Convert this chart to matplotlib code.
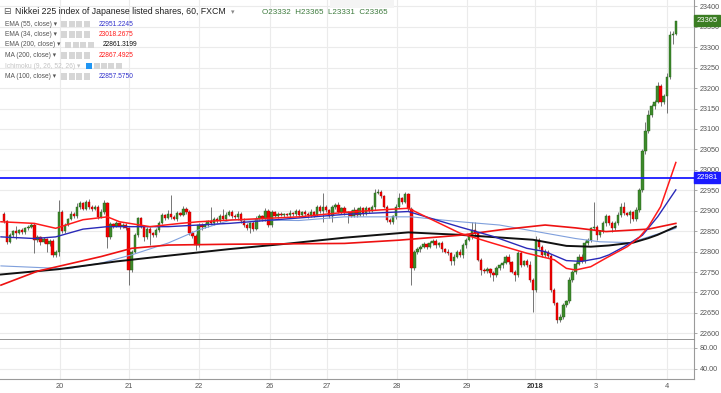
import numpy as np
import matplotlib
matplotlib.use('Agg')
import matplotlib.pyplot as plt
from matplotlib.patches import Rectangle
from matplotlib.transforms import blended_transform_factory

plt.rcParams['font.family'] = ['Liberation Sans', 'DejaVu Sans']

# ---------------- data (hourly candles) ----------------
first_open = 22891
closes = [
    22875, 22824, 22840, 22850, 22845, 22852, 22848, 22858, 22860, 22866,
    22828, 22835, 22823, 22830, 22818, 22826, 22792, 22798, 22898, 22850,
    22866, 22880, 22893, 22887, 22910, 22918, 22905, 22922, 22910, 22905,
    22910, 22885, 22898, 22918, 22836, 22867, 22862, 22870, 22862, 22866,
    22857, 22755, 22800, 22840, 22881, 22860, 22835, 22855, 22845, 22840,
    22853, 22871, 22889, 22883, 22893, 22885, 22880, 22895, 22890, 22905,
    22898, 22845, 22838, 22816, 22865, 22860, 22866, 22875, 22870, 22880,
    22875, 22888, 22880, 22890, 22897, 22888, 22884, 22893, 22876, 22866,
    22857, 22869, 22855, 22880, 22887, 22880, 22900, 22865, 22897, 22887,
    22893, 22890, 22891, 22889, 22895, 22891, 22899, 22890, 22897, 22892,
    22889, 22897, 22890, 22910, 22900, 22910, 22902, 22888, 22908, 22914,
    22898, 22906, 22894, 22896, 22888, 22902, 22890, 22906, 22892, 22906,
    22900, 22908, 22943, 22945, 22935, 22910, 22878, 22872, 22886, 22910,
    22930, 22922, 22940, 22905, 22759, 22800, 22806, 22812, 22818, 22812,
    22822, 22826, 22815, 22820, 22806, 22800, 22796, 22778, 22788, 22800,
    22792, 22816, 22829, 22837, 22853, 22845, 22780, 22756, 22752, 22757,
    22748, 22743, 22759, 22767, 22772, 22788, 22775, 22751, 22743, 22796,
    22768, 22776, 22768, 22731, 22706, 22829, 22812, 22792, 22800, 22790,
    22706, 22674, 22633, 22641, 22670, 22678, 22731, 22751, 22770, 22788,
    22776, 22821, 22829, 22857, 22861, 22840, 22850, 22869, 22886, 22870,
    22858, 22869, 22890, 22910, 22894, 22890, 22896, 22880, 22902, 22951,
    23045, 23094, 23134, 23155, 23167, 23204, 23167, 23180, 23228, 23330,
    23332, 23365,
]
upper_wick = [
    7, 3, 5, 4, 12, 4, 6, 3, 5, 4,
    3, 6, 4, 5, 3, 6, 4, 5, 28, 4,
    5, 3, 6, 4, 8, 5, 4, 4, 6, 3,
    5, 4, 6, 8, 4, 5, 4, 6, 3, 5,
    4, 3, 5, 6, 4, 3, 5, 4, 6, 3,
    5, 4, 6, 4, 9, 45, 4, 5, 3, 6,
    4, 3, 5, 4, 6, 4, 5, 3, 35, 4,
    5, 4, 17, 6, 4, 5, 3, 6, 4, 5,
    3, 4, 5, 6, 4, 3, 6, 4, 5, 3,
    4, 5, 3, 4, 6, 3, 5, 4, 3, 5,
    4, 6, 3, 4, 5, 33, 4, 3, 6, 5,
    8, 4, 5, 3, 6, 8, 4, 5, 3, 6,
    4, 5, 10, 8, 6, 4, 3, 5, 4, 6,
    13, 4, 5, 3, 4, 5, 6, 4, 5, 3,
    5, 4, 6, 3, 5, 4, 6, 3, 5, 4,
    6, 5, 4, 6, 20, 20, 4, 5, 3, 6,
    4, 5, 6, 3, 5, 4, 6, 3, 4, 6,
    5, 4, 6, 8, 4, 8, 5, 4, 6, 3,
    5, 4, 3, 6, 5, 4, 6, 5, 4, 5,
    6, 4, 5, 4, 61, 5, 4, 6, 5, 3,
    4, 5, 6, 8, 12, 4, 5, 3, 6, 5,
    6, 24, 12, 5, 4, 12, 6, 5, 8, 10,
    8, 0,
]
lower_wick = [
    5, 6, 4, 5, 15, 3, 6, 4, 5, 3,
    31, 4, 6, 3, 18, 5, 4, 6, 8, 4,
    5, 4, 3, 6, 4, 5, 3, 4, 6, 5,
    4, 6, 3, 5, 28, 4, 5, 3, 6, 4,
    5, 37, 6, 4, 5, 3, 9, 4, 29, 5,
    4, 6, 3, 5, 4, 6, 3, 5, 4, 3,
    6, 4, 5, 12, 4, 6, 3, 5, 4, 6,
    4, 5, 3, 6, 4, 5, 4, 6, 7, 5,
    4, 12, 5, 3, 6, 4, 5, 4, 6, 3,
    5, 4, 6, 3, 5, 4, 3, 6, 4, 5,
    6, 4, 5, 3, 6, 27, 4, 5, 15, 3,
    4, 6, 5, 24, 4, 3, 6, 4, 5, 3,
    5, 4, 6, 3, 5, 4, 6, 5, 4, 6,
    4, 5, 3, 6, 40, 4, 5, 6, 3, 5,
    4, 6, 5, 3, 6, 4, 5, 12, 12, 4,
    5, 8, 6, 4, 5, 6, 4, 13, 5, 4,
    9, 16, 4, 5, 6, 3, 5, 4, 16, 5,
    6, 4, 5, 6, 53, 4, 5, 6, 4, 5,
    6, 5, 8, 4, 6, 5, 4, 6, 5, 4,
    5, 4, 6, 5, 4, 11, 5, 4, 6, 5,
    9, 5, 4, 6, 5, 4, 20, 6, 5, 4,
    5, 6, 4, 5, 6, 4, 12, 5, 40, 5,
    21, 1,
]

# moving averages (bar index, value)
ema34_bar = [-1, 10, 17, 26, 34, 38, 48, 58, 64, 74, 97, 112, 124, 133, 150, 161, 172, 181, 185, 188, 193, 198, 205, 209, 212, 216, 221]
ema34_val = [22873, 22869, 22857, 22878, 22885, 22873, 22861, 22869, 22873, 22877, 22885, 22896, 22902, 22906, 22845, 22820, 22796, 22780, 22759, 22755, 22763, 22784, 22812, 22835, 22861, 22910, 23018]
ema55_bar = [-1, 10, 17, 26, 34, 54, 64, 74, 81, 112, 133, 150, 161, 172, 178, 185, 190, 196, 199, 204, 210, 215, 221]
ema55_val = [22836, 22832, 22836, 22855, 22861, 22861, 22865, 22869, 22873, 22891, 22898, 22860, 22837, 22808, 22800, 22778, 22776, 22784, 22792, 22812, 22840, 22885, 22951]
ema200_bar = [-1, 18, 37, 54, 74, 94, 112, 133, 150, 174, 185, 193, 199, 207, 212, 215, 221]
ema200_val = [22744, 22757, 22776, 22790, 22806, 22820, 22834, 22847, 22841, 22829, 22814, 22812, 22815, 22822, 22833, 22841, 22861]
ma200_bar = [-1, 11, 32, 42, 54, 74, 112, 130, 150, 163, 178, 188, 198, 212, 221]
ma200_val = [22718, 22752, 22788, 22808, 22816, 22818, 22820, 22828, 22840, 22853, 22865, 22858, 22849, 22855, 22869]
ma100_bar = [-1, 21, 32, 42, 54, 64, 75, 97, 112, 134, 150, 163, 188, 196, 206, 221]
ma100_val = [22765, 22758, 22772, 22792, 22821, 22853, 22878, 22876, 22885, 22885, 22873, 22865, 22832, 22824, 22822, 22857]

level_line = 22981
last_price = 23365

day_labels = ['20', '21', '22', '26', '27', '28', '29', '2018', '3', '4']
day_start_bar = [18.4, 41.1, 64.1, 87.5, 106.3, 129.3, 152.3, 174.7, 194.7, 218.1]

price_ticks = list(range(22600, 23401, 50))
lower_ticks = [80, 40]

legend_names = ['EMA (55, close)', 'EMA (34, close)', 'EMA (200, close)', 'MA (200, close)',
                'Ichimoku (9, 26, 52, 26)', 'MA (100, close)']
legend_values = ['22951.2245', '23018.2675', '22861.3199', '22867.4925', '', '22857.5750']

# ---------------- layout ----------------
W, H = 721, 393
fig = plt.figure(figsize=(W / 100, H / 100), dpi=100)
fig.patch.set_facecolor('white')
PLOT_R = 694
MAIN_BOT = 340
LOW_BOT = 379
BAR0, STEP = 4.0, 3.04

ax = fig.add_axes([0, (H - MAIN_BOT) / H, PLOT_R / W, MAIN_BOT / H])
ax2 = fig.add_axes([0, (H - LOW_BOT) / H, PLOT_R / W, (LOW_BOT - MAIN_BOT) / H])

xlim = (-BAR0 / STEP, (PLOT_R - BAR0) / STEP)
ylo = 23400 - (MAIN_BOT - 6.3) * 2.446
yhi = 23400 + 6.3 * 2.446

GRID = '#ebebeb'
TXT = '#555555'
UP_FACE, UP_EDGE = '#3d8a2b', '#24601a'
DN_FACE, DN_EDGE = '#f20000', '#b30000'

for a in (ax, ax2):
    a.set_xlim(*xlim)
    a.set_facecolor('white')
    a.set_xticks(day_start_bar)
    a.grid(True, color=GRID, lw=0.8)
    a.set_axisbelow(True)
    for s in ('top', 'left'):
        a.spines[s].set_visible(False)
    a.spines['right'].set_color('#9a9a9a')
    a.spines['right'].set_linewidth(0.8)
    a.yaxis.tick_right()
    a.tick_params(axis='y', length=2.5, width=0.6, color='#9a9a9a', labelsize=5.2,
                  labelcolor=TXT, pad=1.5)

ax.set_ylim(ylo, yhi)
ax.set_yticks(price_ticks)
ax.set_yticklabels([str(p) for p in price_ticks])
ax.tick_params(axis='x', length=0, labelbottom=False)
ax.spines['bottom'].set_color('#8c8c8c')
ax.spines['bottom'].set_linewidth(1.3)

ax2.set_ylim(21, 95)
ax2.set_yticks(lower_ticks)
ax2.set_yticklabels(['%.2f' % v for v in lower_ticks])
ax2.spines['bottom'].set_color('#9a9a9a')
ax2.spines['bottom'].set_linewidth(0.8)
ax2.tick_params(axis='x', length=0, labelsize=5.4, labelcolor=TXT, pad=3)
ax2.set_xticklabels(day_labels)
for lab in ax2.get_xticklabels():
    if lab.get_text() == '2018':
        lab.set_fontweight('bold')
        lab.set_color('#333333')

# ---------------- candles ----------------
closes_a = np.array(closes, dtype=float)
opens_a = np.concatenate([[first_open], closes_a[:-1]])
highs_a = np.maximum(opens_a, closes_a) + np.array(upper_wick)
lows_a = np.minimum(opens_a, closes_a) - np.array(lower_wick)
bars = np.arange(len(closes_a))
up = closes_a >= opens_a

ax.vlines(bars, lows_a, highs_a, color='#5f5f5f', lw=0.6, zorder=3)
body_bot = np.minimum(opens_a, closes_a)
body_h = np.maximum(np.abs(closes_a - opens_a), 1.2)
ax.bar(bars[up], body_h[up], bottom=body_bot[up], width=0.8,
       color=UP_FACE, edgecolor=UP_EDGE, lw=0.3, zorder=4)
ax.bar(bars[~up], body_h[~up], bottom=body_bot[~up], width=0.8,
       color=DN_FACE, edgecolor=DN_EDGE, lw=0.3, zorder=4)

# ---------------- moving averages ----------------
ax.plot(ma100_bar, ma100_val, color='#7f9fdc', lw=0.8, zorder=5)
ax.plot(ema200_bar, ema200_val, color='#111111', lw=1.4, zorder=5)
ax.plot(ma200_bar, ma200_val, color='#ee1111', lw=1.2, zorder=5)
ax.plot(ema55_bar, ema55_val, color='#2a2ab8', lw=1.0, zorder=5)
ax.plot(ema34_bar, ema34_val, color='#ff1a1a', lw=1.1, zorder=5)

# horizontal level
ax.axhline(level_line, color='#1a1aff', lw=1.3, zorder=6)

# price boxes on axis
tr = blended_transform_factory(ax.transAxes, ax.transData)
for val, col in ((level_line, '#1a1aff'), (last_price, '#3b7d23')):
    ax.text(1.004, val, str(val), transform=tr, ha='left', va='center', fontsize=5.5,
            color='white', clip_on=False, zorder=10,
            bbox=dict(boxstyle='square,pad=0.3', fc=col, ec=col))


# ---------------- header ----------------
def ftext(x, y, s, **kw):
    fig.text(x / W, 1 - y / H, s, va='center', **kw)


def frect(x, y, w, h, color):
    fig.add_artist(Rectangle((x / W, 1 - (y + h) / H), w / W, h / H,
                             transform=fig.transFigure, fc=color, ec='none', zorder=8))


ftext(3, 12, '\u229f', fontsize=6.5, color='#555555', family=['DejaVu Sans'])
ftext(15, 12, 'Nikkei 225 index of Japanese listed shares, 60, FXCM', fontsize=6.3, color='#222222')
ftext(231, 12, '\u25be', fontsize=5, color='#888888', family=['DejaVu Sans'])
ftext(262, 12, 'O23332  H23365  L23331  C23365', fontsize=5.8, color='#3d7a3d')
frect(330, 0, 64, 8, '#f4f4f4')
ftext(334, 3.5, 'Exit Full Screen (ESC)', fontsize=3.8, color='#a8a8a8')

value_colors = ['#3333cc', '#ff1a1a', '#111111', '#ff1a1a', '#bbbbbb', '#3333cc']
row_y = [24, 34.5, 45, 55.5, 66, 76.5]
for k, (name, val) in enumerate(zip(legend_names, legend_values)):
    y = row_y[k]
    ichi = name.startswith('Ichimoku')
    ftext(5, y, name + ' \u25be', fontsize=4.8, color='#c4c4c4' if ichi else '#555555')
    if ichi:
        x0, n = 86, 5
    elif name.startswith('EMA (200'):
        x0, n = 65, 4
    else:
        x0, n = 61, 4
    for j in range(n):
        frect(x0 + j * 7.5, y - 3, 6, 6, '#2196f3' if (ichi and j == 0) else '#d6d6d6')
    if val:
        ftext(x0 + n * 7.5 + 8 if not ichi else 100, y, val, fontsize=4.8, color=value_colors[k])

fig.savefig('out.png', dpi=100, facecolor='white')
